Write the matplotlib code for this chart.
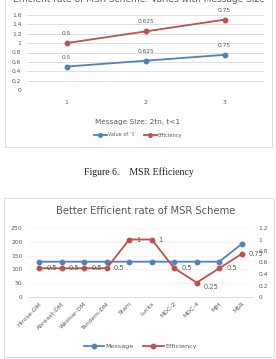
import matplotlib
matplotlib.use("Agg")
import matplotlib.pyplot as plt
from matplotlib.patches import Rectangle
import numpy as np

# chart 1 data
size_labels = ["1", "2", "3"]
t_values = [0.5, 0.625, 0.75]
eff_values = [0.5, 0.625, 0.75]

# chart 2 data
schemes = ["Hirose-DM", "Abreast-DM", "Weimar-DM", "Tandem-DM", "Stam", "Lucks",
           "MDC-2", "MDC-4", "MJH", "MSR"]
message = [128, 128, 128, 128, 128, 128, 128, 128, 128, 192]
efficiency = [0.5, 0.5, 0.5, 0.5, 1, 1, 0.5, 0.25, 0.5, 0.75]
eff_text = ["0.5", "0.5", "0.5", "0.5", "1", "1", "0.5", "0.25", "0.5", "0.75"]

BLUE = "#4F81BD"
RED = "#C0504D"
TXT = "#595959"
GRID = "#d9d9d9"

W, H = 276, 359
fig = plt.figure(figsize=(W / 100, H / 100), dpi=100)

def px(x0, y0, x1, y1):
    # pixel box (top-left origin) -> figure fraction
    return [x0 / W, 1 - y1 / H, (x1 - x0) / W, (y1 - y0) / H]

# chart borders
fig.patches.append(Rectangle((5 / W, 1 - 147 / H), 267 / W, 150 / H, transform=fig.transFigure,
                             fill=False, ec="#d9d9d9", lw=0.6))
fig.patches.append(Rectangle((4 / W, 1 - 357 / H), 270 / W, 159 / H, transform=fig.transFigure,
                             fill=False, ec="#d9d9d9", lw=0.6))

# ---------- chart 1 ----------
ax1 = fig.add_axes(px(27, 15, 264, 90))
x = np.arange(len(size_labels))
stacked = np.array(t_values) + np.array(eff_values)
ax1.plot(x, t_values, color=BLUE, lw=1.3, marker="o", ms=3.2, label="Value of `t`")
ax1.plot(x, stacked, color=RED, lw=1.3, marker="o", ms=3.2, label="Efficiency")
for xi, y, s in zip(x, t_values, t_values):
    ax1.annotate(f"{s:g}", (xi, y), xytext=(0, 5), textcoords="offset points",
                 ha="center", va="bottom", fontsize=4.2, color=TXT)
for xi, y, s in zip(x, stacked, eff_values):
    ax1.annotate(f"{s:g}", (xi, y), xytext=(0, 5), textcoords="offset points",
                 ha="center", va="bottom", fontsize=4.2, color=TXT, annotation_clip=False)
ax1.set_xlim(-0.5, 2.5)
ax1.set_ylim(0, 1.6)
ax1.set_yticks(np.arange(0, 1.61, 0.2))
ax1.set_yticklabels(["0", "0.2", "0.4", "0.6", "0.8", "1", "1.2", "1.4", "1.6"])
ax1.set_xticks(x)
ax1.set_xticklabels(size_labels)
ax1.grid(axis="y", color=GRID, lw=0.6)
ax1.set_axisbelow(True)
for s in ax1.spines.values():
    s.set_visible(False)
ax1.tick_params(length=0, labelsize=4.3, colors=TXT, pad=4)
ax1.tick_params(axis="x", pad=7)
fig.text(138 / W, 1 - 122 / H, "Message Size: 2tn, t<1", ha="center", va="center",
         fontsize=5.3, color=TXT)
fig.text(139 / W, 1 + 1.0 / H, "Efficient rate of MSR Scheme: Varies with Message Size",
         ha="center", va="center", fontsize=6.5, color=TXT)
h, l = ax1.get_legend_handles_labels()
fig.legend(h, l, loc="center", bbox_to_anchor=(138 / W, 1 - 135 / H), ncol=2, frameon=False,
           fontsize=3.6, labelcolor=TXT, handlelength=2.6, columnspacing=1.5, handletextpad=0.2,
           markerscale=0.8)

fig.text(139 / W, 1 - 172 / H, "Figure 6.    MSR Efficiency", ha="center", va="center",
         fontsize=7, family="Liberation Serif", color="#222222")

# ---------- chart 2 ----------
ax2 = fig.add_axes(px(28, 228, 253, 297))
x2 = np.arange(len(schemes))
ax2.plot(x2, message, color=BLUE, lw=1.3, marker="o", ms=3.2, label="Message")
ax2.set_xlim(-0.5, len(schemes) - 0.5)
ax2.set_ylim(0, 250)
ax2.set_yticks(range(0, 251, 50))
ax2.set_xticks(x2)
ax2.set_xticklabels(schemes, rotation=45, ha="right", rotation_mode="anchor")
ax2.grid(axis="y", color="#f2f2f2", lw=0.5)
ax2.set_axisbelow(True)
axr = ax2.twinx()
axr.plot(x2, efficiency, color=RED, lw=1.3, marker="o", ms=3.2, label="Efficiency")
for xi, y, s in zip(x2, efficiency, eff_text):
    dy = -3 if s == "0.25" else 0
    axr.annotate(s, (xi, y), xytext=(5, dy), textcoords="offset points",
                 ha="left", va="center", fontsize=4.8, color=TXT, annotation_clip=False)
axr.set_ylim(0, 1.2)
axr.set_yticks(np.arange(0, 1.21, 0.2))
axr.set_yticklabels(["0", "0.2", "0.4", "0.6", "0.8", "1", "1.2"])
for a in (ax2, axr):
    for s in a.spines.values():
        s.set_visible(False)
    a.tick_params(length=0, labelsize=4.3, colors=TXT, pad=4)
ax2.spines["bottom"].set_visible(True)
ax2.spines["bottom"].set_color(GRID)
ax2.spines["bottom"].set_linewidth(0.6)
ax2.tick_params(axis="x", pad=3, labelsize=4.4)
fig.text(146 / W, 1 - 211 / H, "Better Efficient rate of MSR Scheme", ha="center", va="center",
         fontsize=7.2, color=TXT)
h2 = ax2.get_legend_handles_labels()[0] + axr.get_legend_handles_labels()[0]
l2 = ["Message", "Efficiency"]
fig.legend(h2, l2, loc="center", bbox_to_anchor=(140 / W, 1 - 346 / H), ncol=2, frameon=False,
           fontsize=4.6, labelcolor=TXT, handlelength=3.2, columnspacing=1.5, handletextpad=0.2)

fig.savefig("out.png", dpi=100)
